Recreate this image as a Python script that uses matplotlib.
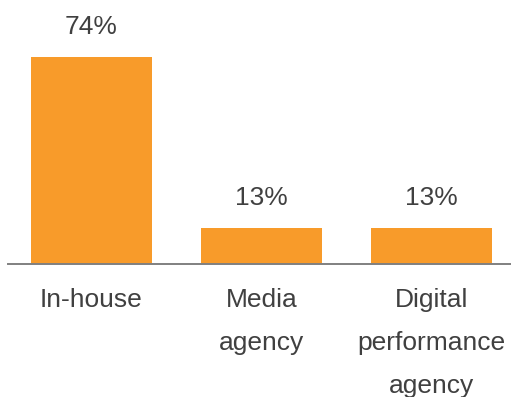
import matplotlib.pyplot as plt

# agency split
categories = ['In-house', 'Media\nagency', 'Digital\nperformance\nagency']
shares = [74, 13, 13]

bar_color = '#F89B2A'
text_color = '#404040'

plt.rcParams['font.family'] = ['Liberation Sans', 'DejaVu Sans']

fig = plt.figure(figsize=(5.11, 3.97), dpi=100)
ax = fig.add_axes([8 / 511, 133 / 397, 503 / 511, 207 / 397])

x = range(len(categories))
bars = ax.bar(x, shares, width=0.712, color=bar_color, zorder=2)

for b, v in zip(bars, shares):
    ax.annotate(f'{v}%', (b.get_x() + b.get_width() / 2, v),
                xytext=(0, 16.5), textcoords='offset points',
                ha='center', va='baseline', fontsize=19, color=text_color)

ax.set_xlim(-0.491, 2.468)
ax.set_ylim(0, 74)
ax.set_xticks(list(x))
ax.set_xticklabels(categories, fontsize=19, color=text_color, linespacing=2.02)
ax.tick_params(axis='x', length=0, pad=17)
ax.set_yticks([])

for s in ['top', 'left', 'right']:
    ax.spines[s].set_visible(False)
ax.spines['bottom'].set_color('#808080')
ax.spines['bottom'].set_linewidth(1.4)
ax.spines['bottom'].set_zorder(3)

fig.savefig('out.png', dpi=100)
